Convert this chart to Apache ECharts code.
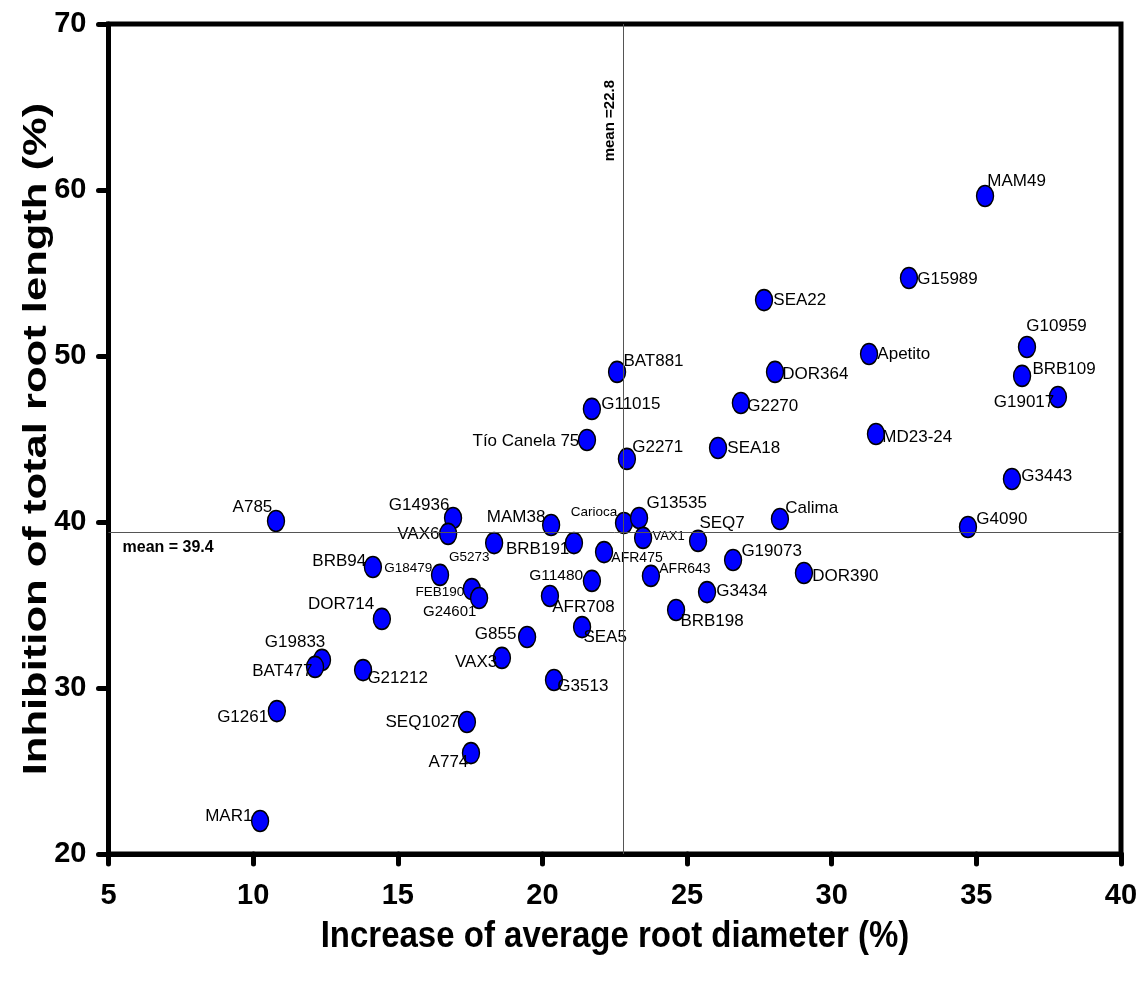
<!DOCTYPE html>
<html><head><meta charset="utf-8">
<script src="https://cdn.jsdelivr.net/npm/echarts@6/dist/echarts.min.js"></script>
<style>html,body{margin:0;padding:0;background:#fff}#c{width:1142px;height:988px}</style>
</head><body><div id="c"></div>
<script>
// ---------------- DATA ----------------
const names = ['MAM49','G15989','SEA22','G10959','BRB109','G19017','Apetito','DOR364','BAT881','G11015',
  'G2270','MD23-24','Tío Canela 75','G2271','SEA18','G3443','A785','G14936','VAX6','MAM38',
  'Carioca','G13535','VAX1','Calima','G4090','SEQ7','BRB191','G5273','AFR475','BRB94',
  'G18479','G19073','DOR390','AFR643','G11480','FEB190','G24601','G3434','AFR708','BRB198',
  'DOR714','SEA5','G855','VAX3','G19833','BAT477','G21212','G3513','G1261','SEQ1027','A774','MAR1'];
const rootDiameterIncrease = [35.30,32.67,27.66,36.75,36.58,37.82,31.29,28.04,22.58,21.71,
  26.86,31.53,21.54,22.92,26.07,36.23,10.79,16.91,16.74,20.30,
  22.82,23.34,23.48,28.21,34.71,25.38,21.09,18.33,22.13,14.14,
  16.46,26.59,29.04,23.75,21.71,17.56,17.81,25.69,20.26,24.62,
  14.45,21.37,19.47,18.60,12.38,12.14,13.80,20.40,10.82,17.39,17.53,10.24];
const rootLengthInhibition = [59.64,54.70,53.37,50.54,48.80,47.53,50.12,49.04,49.04,46.81,
  47.17,45.30,44.94,43.80,44.46,42.59,40.06,40.24,39.28,39.82,
  39.94,40.24,39.04,40.18,39.70,38.86,38.73,38.73,38.19,37.29,
  36.81,37.71,36.93,36.75,36.45,35.96,35.42,35.78,35.54,34.70,
  34.16,33.67,33.07,31.81,31.69,31.27,31.08,30.48,28.61,27.95,26.08,21.99];
const meanX = 22.8;
const meanY = 39.4;
const xTicks = [5,10,15,20,25,30,35,40];
const yTicks = [20,30,40,50,60,70];
const xTitle = 'Increase of average root diameter (%)';
const yTitle = 'Inhibition of total root length (%)';

// ---------------- STYLE (label placement: align, dx, dy, fontSize) ----------------
const labelPlace = {
  'MAM49':['left',3,-14],'G15989':['left',9,2],'SEA22':['left',10,1],'G10959':['left',0,-20],
  'BRB109':['left',11,-6],'G19017':['right',-3,6],'Apetito':['left',9,1],'DOR364':['left',8,3],
  'BAT881':['left',7,-10],'G11015':['left',10,-4],'G2270':['left',7,4],'MD23-24':['left',7,4],
  'Tío Canela 75':['right',-7,2],'G2271':['left',6,-11],'SEA18':['left',10,1],'G3443':['left',10,-2],
  'A785':['right',-3,-13],'G14936':['right',-3,-12],'VAX6':['right',-8,1],'MAM38':['right',-5,-7],
  'Carioca':['right',-6,-10,13.5],'G13535':['left',8,-14],'VAX1':['left',10,-1,13],'Calima':['left',6,-10],
  'G4090':['left',9,-7],'SEQ7':['left',2,-17],'BRB191':['right',-4,7],'G5273':['right',-4,15,13.5],
  'AFR475':['left',8,7,14],'BRB94':['right',-6,-5],'G18479':['right',-7,-6,13.5],'G19073':['left',9,-8],
  'DOR390':['left',9,4],'AFR643':['left',9,-6,14],'G11480':['right',-8,-4,15.5],'FEB190':['right',-7,4,13.5],
  'G24601':['right',-2,15,15],'G3434':['left',10,0],'AFR708':['left',3,12],'BRB198':['left',5,12],
  'DOR714':['right',-7,-14],'SEA5':['left',2,11],'G855':['right',-10,-2],'VAX3':['right',-4,5],
  'G19833':['right',4,-17],'BAT477':['right',-2,5],'G21212':['left',5,9],'G3513':['left',4,7],
  'G1261':['right',-8,7],'SEQ1027':['right',-7,1],'A774':['right',-2,10],'MAR1':['right',-7,-4]
};
const FONT = "'Liberation Sans', Arial, Helvetica, sans-serif";
const SYM_W = 17, SYM_H = 21;

const seriesData = names.map((n, i) => {
  const p = labelPlace[n] || ['left', 8, 0];
  return {
    name: n,
    value: [rootDiameterIncrease[i], rootLengthInhibition[i]],
    label: {
      position: [SYM_W / 2 + p[1], SYM_H / 2 + p[2]],
      align: p[0],
      verticalAlign: 'middle',
      fontSize: p[3] || 17
    }
  };
});

const chart = echarts.init(document.getElementById('c'), null, {renderer: 'canvas'});
chart.setOption({
  animation: false,
  backgroundColor: '#fff',
  grid: {left: 108.5, right: 21, top: 24, bottom: 134, show: true, borderColor: '#000', borderWidth: 5, backgroundColor: 'transparent'},
  xAxis: {
    type: 'value', min: xTicks[0], max: xTicks[xTicks.length - 1], interval: xTicks[1] - xTicks[0],
    axisLine: {show: true, onZero: false, lineStyle: {color: '#000', width: 5}},
    axisTick: {show: true, length: 10, lineStyle: {color: '#000', width: 5, cap: 'round'}},
    axisLabel: {fontSize: 29, fontWeight: 'bold', color: '#000', margin: 27, fontFamily: FONT},
    splitLine: {show: false}
  },
  yAxis: {
    type: 'value', min: yTicks[0], max: yTicks[yTicks.length - 1], interval: yTicks[1] - yTicks[0],
    axisLine: {show: true, onZero: false, lineStyle: {color: '#000', width: 5}},
    axisTick: {show: true, length: 10, lineStyle: {color: '#000', width: 5, cap: 'round'}},
    axisLabel: {fontSize: 29, fontWeight: 'bold', color: '#000', margin: 22, fontFamily: FONT},
    splitLine: {show: false}
  },
  graphic: [
    {type: 'text', x: 615, y: 937, scaleY: 1.1, z: 100,
      style: {text: xTitle, fontSize: 33, fontWeight: 'bold', fontFamily: FONT, fill: '#000', align: 'center', verticalAlign: 'middle'}},
    {type: 'text', x: 37, y: 439, rotation: Math.PI / 2, scaleX: 1.32, z: 100,
      style: {text: yTitle, fontSize: 33, fontWeight: 'bold', fontFamily: FONT, fill: '#000', align: 'center', verticalAlign: 'middle'}}
  ],
  series: [{
    type: 'scatter',
    symbol: 'path://M0,10 A10,10 0 1,1 20,10 A10,10 0 1,1 0,10 Z',
    symbolSize: [SYM_W, SYM_H],
    itemStyle: {color: '#0000ff', borderColor: '#000', borderWidth: 1.5, opacity: 1},
    label: {show: true, formatter: '{b}', color: '#000', fontFamily: FONT},
    emphasis: {disabled: true},
    data: seriesData,
    markLine: {
      silent: true, symbol: 'none', animation: false,
      lineStyle: {color: '#555', width: 1, type: 'solid'},
      label: {fontFamily: FONT, fontWeight: 'bold', color: '#000'},
      data: [
        {xAxis: meanX, label: {formatter: 'mean =' + meanX, position: 'insideEndTop', distance: [56, 6], fontSize: 15}},
        {yAxis: meanY, label: {formatter: 'mean = ' + meanY, position: 'insideStartBottom', distance: [14, 8], fontSize: 16}}
      ]
    }
  }]
});
</script></body></html>
